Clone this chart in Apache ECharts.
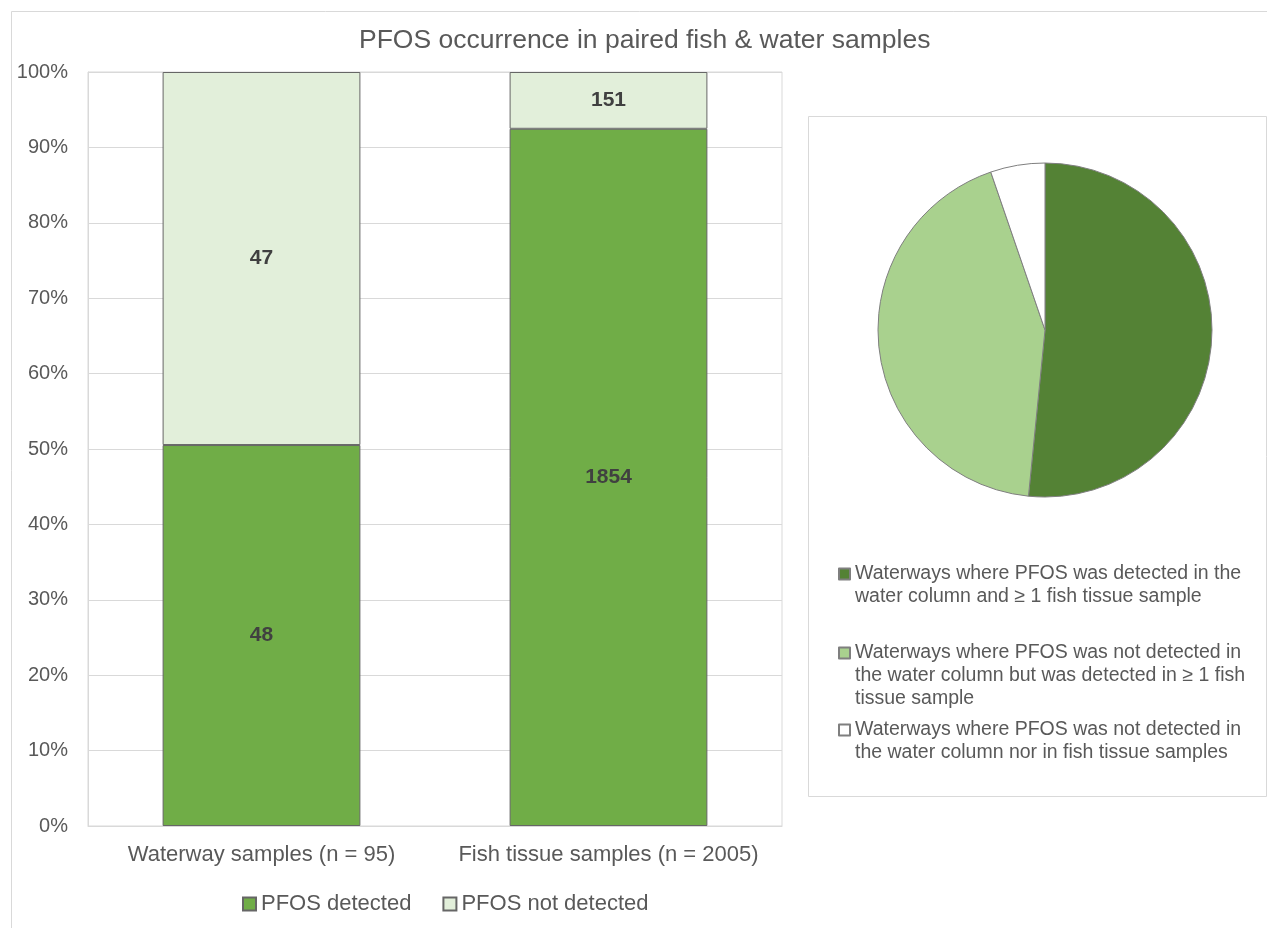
<!DOCTYPE html>
<html>
<head>
<meta charset="utf-8">
<script src="https://cdn.jsdelivr.net/npm/echarts@6/dist/echarts.min.js"></script>
<style>
  html, body { margin: 0; padding: 0; background: #fff; }
  #main { width: 1267px; height: 928px; }
</style>
</head>
<body>
<div id="main"></div>
<script>
// bar data (counts)
const categories = ['Waterway samples (n = 95)', 'Fish tissue samples (n = 2005)'];
const barNames = ['PFOS detected', 'PFOS not detected'];
const detected = [48, 1854];
const notDetected = [47, 151];

// pie data (waterways)
const pieNames = [
  'Waterways where PFOS was detected in the water column and ≥ 1 fish tissue sample',
  'Waterways where PFOS was not detected in the water column but was detected in ≥ 1 fish tissue sample',
  'Waterways where PFOS was not detected in the water column nor in fish tissue samples'
];
const pieValues = [49, 41, 5];
const pieLegendLines = [
  ['Waterways where PFOS was detected in the', 'water column and ≥ 1 fish tissue sample'],
  ['Waterways where PFOS was not detected in', 'the water column but was detected in ≥ 1 fish', 'tissue sample'],
  ['Waterways where PFOS was not detected in', 'the water column nor in fish tissue samples']
];

const barColors = ['#70AD47', '#E2EFDA'];
const pieColors = ['#548235', '#A9D18E', '#FFFFFF'];
const textColor = '#595959';
const font = 'Liberation Sans, Arial, sans-serif';

// share of each bar in percent
let totals = detected.map((d, i) => d + notDetected[i]);
let detPct = detected.map((d, i) => d / totals[i] * 100);
let notPct = notDetected.map((d, i) => d / totals[i] * 100);

let chart = echarts.init(document.getElementById('main'), null, { renderer: 'canvas' });

const lh = 23;
// icon sits beside the first line: pad the block with empty lines on top
const pieIconY = [574, 653, 730];
let pieLegends = pieNames.map((name, i) => {
  let lines = pieLegendLines[i];
  let pad = lines.length - 1;
  return {
    data: [name],
    left: 838,
    top: pieIconY[i] - (2 * lines.length - 1) * lh / 2,
    padding: 0,
    orient: 'vertical',
    icon: 'rect',
    itemWidth: 11,
    itemHeight: 11,
    selectedMode: false,
    formatter: () => '\n'.repeat(pad) + lines.join('\n'),
    textStyle: {
      fontFamily: font,
      fontSize: 19.5,
      color: textColor,
      lineHeight: lh
    }
  };
});

let option = {
  animation: false,
  backgroundColor: '#fff',
  textStyle: { fontFamily: font },
  title: {
    text: 'PFOS occurrence in paired fish & water samples',
    left: 359,
    top: 27,
    padding: 0,
    textStyle: {
      fontFamily: font,
      fontSize: 26.5,
      fontWeight: 'normal',
      color: textColor
    }
  },
  graphic: [
    // outer chart frame
    {
      type: 'rect', silent: true, z: -1,
      shape: { x: 11.5, y: 11.5, width: 1400, height: 1000 },
      style: { fill: 'none', stroke: '#d9d9d9', lineWidth: 1 }
    },
    // pie box
    {
      type: 'rect', silent: true, z: -1,
      shape: { x: 808.5, y: 116.5, width: 458, height: 680 },
      style: { fill: 'none', stroke: '#d9d9d9', lineWidth: 1 }
    }
  ],
  grid: {
    left: 88, right: 485, top: 72, bottom: 102,
    show: true, borderColor: '#d9d9d9', borderWidth: 1
  },
  legend: [
    {
      data: barNames,
      left: 242,
      top: 893,
      padding: 0,
      icon: 'rect',
      itemWidth: 13,
      itemHeight: 13,
      itemGap: 31,
      selectedMode: false,
      textStyle: {
        fontFamily: font,
        fontSize: 22,
        color: textColor
      }
    }
  ].concat(pieLegends),
  xAxis: {
    type: 'category',
    data: categories,
    axisLine: { lineStyle: { color: '#d9d9d9' } },
    axisTick: { show: false },
    axisLabel: {
      interval: 0,
      margin: 18,
      fontSize: 22,
      color: textColor
    }
  },
  yAxis: {
    type: 'value',
    min: 0,
    max: 100,
    interval: 10,
    axisLine: { show: true, lineStyle: { color: '#d9d9d9' } },
    axisTick: { show: false },
    splitLine: { lineStyle: { color: '#d9d9d9', width: 1 } },
    axisLabel: {
      margin: 20,
      fontSize: 20,
      color: textColor,
      formatter: '{value}%'
    }
  },
  series: [
    {
      name: barNames[0],
      type: 'bar',
      stack: 'total',
      barWidth: '57%',
      data: detPct,
      itemStyle: { color: barColors[0], borderColor: '#666666', borderWidth: 1 },
      label: {
        show: true,
        position: 'inside',
        fontSize: 21,
        fontWeight: 'bold',
        color: '#404040',
        formatter: p => detected[p.dataIndex]
      }
    },
    {
      name: barNames[1],
      type: 'bar',
      stack: 'total',
      barWidth: '57%',
      data: notPct,
      itemStyle: { color: barColors[1], borderColor: '#666666', borderWidth: 1 },
      label: {
        show: true,
        position: 'inside',
        fontSize: 21,
        fontWeight: 'bold',
        color: '#404040',
        formatter: p => notDetected[p.dataIndex]
      }
    },
    {
      name: 'waterways',
      type: 'pie',
      center: [1045, 330],
      radius: 167,
      startAngle: 90,
      clockwise: true,
      label: { show: false },
      labelLine: { show: false },
      emphasis: { disabled: true },
      itemStyle: { borderColor: '#7f7f7f', borderWidth: 1 },
      data: pieNames.map((n, i) => ({
        name: n,
        value: pieValues[i],
        itemStyle: { color: pieColors[i] }
      }))
    }
  ]
};

chart.setOption(option);
</script>
</body>
</html>
